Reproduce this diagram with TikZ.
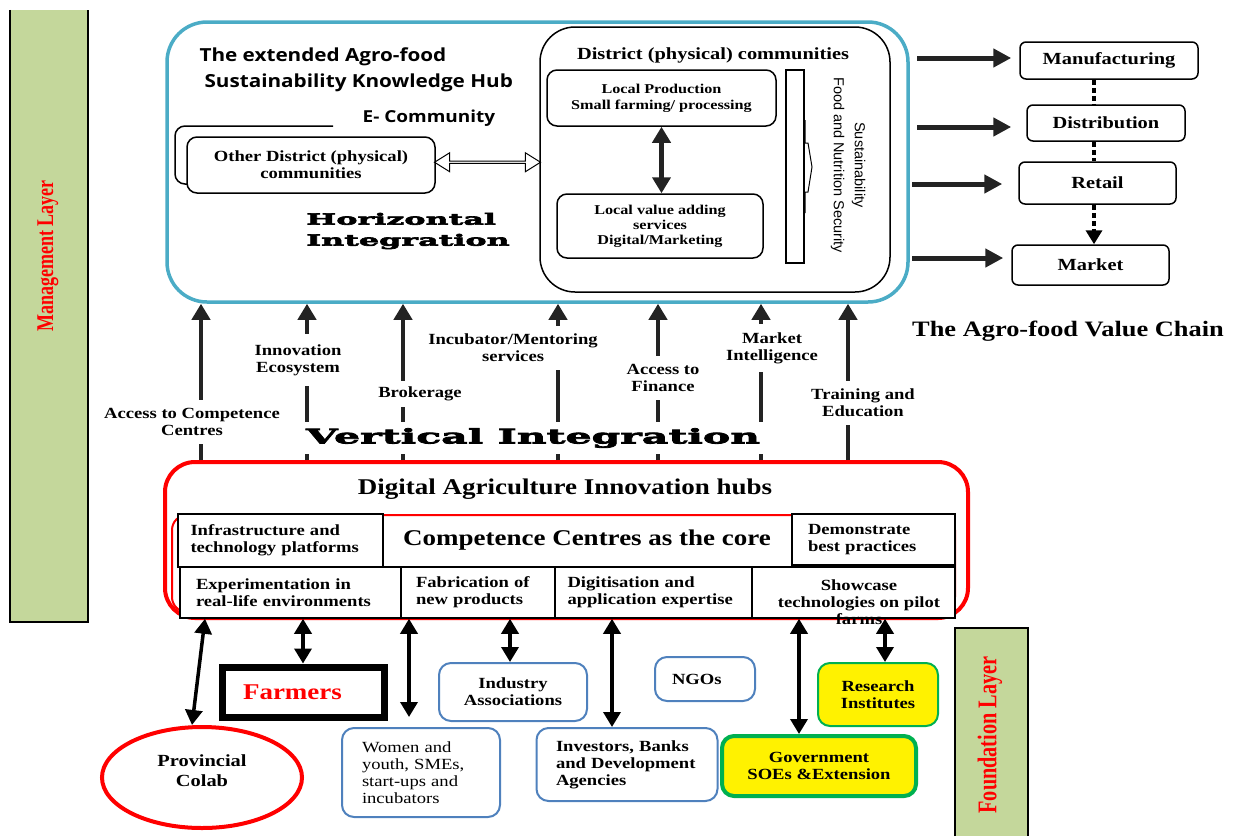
\documentclass[tikz,border=0pt]{standalone}
\usepackage{fontspec}
\setmainfont{Liberation Serif}[FakeStretch=1.2]
\newfontfamily\hubfont{Open Sans}[FakeStretch=1.15]
\newfontfamily\sansfont{Liberation Sans}
\newfontfamily\heavyfont{DejaVu Serif Bold}[FakeStretch=2.05,FakeBold=4]
\newfontfamily\layerfont{Liberation Serif}[FakeStretch=0.75]
\usetikzlibrary{arrows.meta,shapes.geometric,shapes.arrows,calc}
\newcommand\fsz[2]{\fontsize{#1}{#2}\selectfont}
\definecolor{hubblue}{RGB}{75,172,198}
\definecolor{layergreen}{RGB}{196,215,155}
\definecolor{stakeblue}{RGB}{79,129,189}
\definecolor{govgreen}{RGB}{0,176,80}
\definecolor{arrowgray}{RGB}{35,35,35}

\begin{document}
\begin{tikzpicture}[x=1pt,y=-1pt,
  font=\bfseries\fsz{15.5}{17},
  roundbox/.style={draw,line width=1.5,rounded corners=10,fill=white,align=center,inner sep=0},
  chainbox/.style={draw,line width=1.5,rounded corners=6,fill=white,inner sep=0,font=\bfseries\fsz{17}{20}},
  gridbox/.style={draw,line width=1.5,fill=white,inner sep=0,align=left},
  stakebox/.style={draw=stakeblue,line width=2,rounded corners=12,fill=white,align=left,inner sep=0},
  yellowbox/.style={draw=govgreen,fill=yellow,rounded corners=12,align=center,inner sep=0},
  layerbar/.style={fill=layergreen,inner sep=0},
  layertext/.style={rotate=90,text=red,font=\layerfont\bfseries\fsz{24}{26}},
  uparrow/.style={draw=arrowgray,line width=4,-{Triangle[width=18pt,length=16pt]}},
  chainarrow/.style={draw=arrowgray,line width=5,shorten >=8,-{Triangle[width=18pt,length=18pt]}},
  linkarrow/.style={line width=3.5,{Triangle[width=17pt,length=15pt]}-{Triangle[width=17pt,length=15pt]}},
  arrowlabel/.style={fill=white,align=center,inner xsep=2,inner ysep=8},
  chaindots/.style={line width=4.5,dash pattern=on 5pt off 3pt}]

\useasboundingbox (0,0) rectangle (1236,836);

\node[layerbar,minimum width=78,minimum height=612] (mgmt) at (49,316) {};
\draw[line width=2] (mgmt.north west) -- (mgmt.south west) -- (mgmt.south east) -- (mgmt.north east);
\node[layertext] (mgmttext) at (48,256) {Management Layer};
\node[layerbar,minimum width=73,minimum height=208] (found) at (991.5,732) {};
\draw[line width=2] (found.south west) -- (found.north west) -- (found.north east) -- (found.south east);
\node[layertext,font=\layerfont\bfseries\fsz{27}{30}] (foundtext) at (990,735) {Foundation Layer};

\node[draw=hubblue,line width=3.5,rounded corners=40,minimum width=741,minimum height=280] (hub) at (537.5,162) {};
\node[font=\hubfont\bfseries\fsz{18}{26},align=left,anchor=north west] (hubtitle) at (196,44) {The extended Agro-food\\\hspace*{5pt}Sustainability Knowledge Hub};
\node[font=\hubfont\bfseries\fsz{16.5}{20}] (ecomm) at (429,118) {E- Community};
\draw[line width=1.5,rounded corners=10] (333,126) -- (175,126) -- (175,184) -- (195,184);
\node[roundbox,minimum width=248,minimum height=56] (odc) at (311,165) {Other District (physical)\\communities};
\node[font=\heavyfont\fsz{15.5}{21},align=left] (horiz) at (408,231) {Horizontal\\Integration};

\node[draw,line width=1.5,rounded corners=35,minimum width=350,minimum height=265] (dpc) at (715,159.5) {};
\node[font=\bfseries\fsz{17}{20}] (dpctitle) at (713,55) {District (physical) communities};
\node[roundbox,minimum width=229,minimum height=56,font=\bfseries\fsz{13.5}{16}] (lp) at (661.5,98) {Local Production\\Small farming/ processing};
\node[roundbox,minimum width=206,minimum height=64,font=\bfseries\fsz{13.5}{15}] (lv) at (660,226) {Local value adding\\services\\Digital/Marketing};
\draw[draw=arrowgray,line width=5,{Triangle[width=18pt,length=16pt]}-{Triangle[width=18pt,length=16pt]}] (lp.south) -- (lp.south |- lv.north);
\node[draw,line width=1.5,minimum width=18,minimum height=193,inner sep=0] (sbar) at (795,166.5) {};
\draw[line width=1] (805,120) -- (805,143) -- (808,143) -- (812,167) -- (808,192) -- (805,192) -- (805,213);
\node[rotate=-90,font=\sansfont\fsz{14.5}{21},align=center] (sfns) at (848,165) {Sustainability\\Food and Nutrition Security};
\node[double arrow,draw,line width=1,fill=white,minimum height=106,minimum width=19,inner sep=0,double arrow head extend=4,double arrow tip angle=64] (ecarrow) at ($(odc.east)!0.5!(dpc.west)$) {};

\node[chainbox,minimum width=178,minimum height=37] (manu) at (1109,60.5) {Manufacturing};
\node[chainbox,minimum width=158,minimum height=36] (distr) at (1106,123) {Distribution};
\node[chainbox,minimum width=157,minimum height=42] (retail) at (1097.5,183) {Retail};
\node[chainbox,minimum width=157,minimum height=40] (market) at (1090.5,265) {Market};
\draw[chaindots] (manu.south -| 1094,0) -- (distr.north -| 1094,0);
\draw[chaindots] (distr.south -| 1094,0) -- (retail.north -| 1094,0);
\draw[chaindots,-{Triangle[width=16pt,length=14pt]}] (retail.south -| 1094,0) -- (market.north -| 1094,0);
\coordinate (c1) at (917,58);
\coordinate (c2) at (917,127);
\coordinate (c3) at (912,184);
\coordinate (c4) at (912,258);
\draw[chainarrow] (c1) -- (c1 -| manu.west);
\draw[chainarrow,shorten >=15] (c2) -- (c2 -| distr.west);
\draw[chainarrow,shorten >=16] (c3) -- (c3 -| retail.west);
\draw[chainarrow] (c4) -- (c4 -| market.west);
\node[font=\bfseries\fsz{22}{26}] (vctitle) at (1068,331) {The Agro-food Value Chain};

\node[draw=red,line width=4,rounded corners=30,minimum width=803,minimum height=156] (dah) at (566.5,540) {};
\draw[red,line width=2,rounded corners=15] (172,612) rectangle (955,515);
\node[font=\bfseries\fsz{22.5}{26}] (dahtitle) at (565,489) {Digital Agriculture Innovation hubs};
\node[gridbox,minimum width=205,minimum height=53,text width=180] (infra) at (280.5,540.5) {Infrastructure and\\technology platforms};
\node[font=\bfseries\fsz{22.5}{26}] (cc) at (587,540) {Competence Centres as the core};
\node[gridbox,minimum width=163,minimum height=51,text width=131] (demo) at (873.5,539.5) {Demonstrate\\best practices};
\node[gridbox,minimum width=221,minimum height=51,text width=189] (exper) at (290.5,592.5) {Experimentation in\\real-life environments};
\node[gridbox,minimum width=154,minimum height=51,text width=124] (fab) at (478,592.5) {Fabrication of\\new products};
\node[gridbox,minimum width=197,minimum height=51,text width=172] (digi) at (653.5,592.5) {Digitisation and\\application expertise};
\node[gridbox,minimum width=203,minimum height=51] (show) at (853.5,592.5) {};
\node[align=center] (showtext) at (859,602) {Showcase\\technologies on pilot\\farms};

\foreach \x in {201,307,403,558,658,761,848}
  \draw[uparrow] (dah.north -| \x,0) -- (hub.south -| \x,0);

\node[arrowlabel] (acc) at (192,422) {Access to Competence\\Centres};
\node[arrowlabel,inner ysep=10] (innov) at (298,360) {Innovation\\Ecosystem};
\node[arrowlabel,inner ysep=6] (brok) at (420,394) {Brokerage};
\node[arrowlabel] (incub) at (513,348) {Incubator/Mentoring\\services};
\node[arrowlabel] (fin) at (663,378) {Access to\\Finance};
\node[arrowlabel] (mi) at (772,348) {Market\\Intelligence};
\node[arrowlabel] (train) at (863,403) {Training and\\Education};
\node[fill=white,font=\heavyfont\fsz{20}{24},inner xsep=4,inner ysep=6] (vert) at (533,438) {Vertical Integration};

\node[draw,line width=7,minimum width=162,minimum height=50,text width=120,text=red,font=\bfseries\fsz{22.5}{26}] (farmers) at (303,692) {Farmers};
\node[ellipse,draw=red,line width=4,minimum width=200,minimum height=101,align=center,font=\bfseries\fsz{17}{20}] (colab) at (202,777.5) {Provincial\\Colab\\[-6pt]};
\node[stakebox,minimum width=158,minimum height=89,text width=118,font=\fsz{15.5}{17}] (women) at (421,772.5) {Women and\\youth, SMEs,\\start-ups and\\incubators};
\node[stakebox,minimum width=148,minimum height=58,align=center] (indus) at (513,692) {Industry\\Associations};
\node[stakebox,minimum width=100,minimum height=44,text width=66] (ngo) at (705,679) {NGOs};
\node[stakebox,minimum width=181,minimum height=73,text width=142] (invest) at (627,764.5) {Investors, Banks\\and Development\\Agencies};
\node[yellowbox,line width=4,minimum width=194,minimum height=60] (gov) at (819,766) {Government\\SOEs \&Extension};
\node[yellowbox,line width=2,minimum width=120,minimum height=63] (research) at (878,694.5) {Research\\Institutes};

\draw[linkarrow] (exper.south -| 205,0) -- ($(colab.north)+(-10,0)$);
\draw[linkarrow] (exper.south -| farmers.north) -- (farmers.north);
\draw[linkarrow,shorten >=10] (fab.south -| 409,0) -- (women.north -| 409,0);
\draw[linkarrow] (fab.south -| 510,0) -- (indus.north -| 510,0);
\draw[linkarrow] (digi.south -| 612,0) -- (invest.north -| 612,0);
\draw[linkarrow] (show.south -| 799,0) -- (gov.north -| 799,0);
\draw[linkarrow] (show.south -| 885,0) -- (research.north -| 885,0);

\end{tikzpicture}
\end{document}
